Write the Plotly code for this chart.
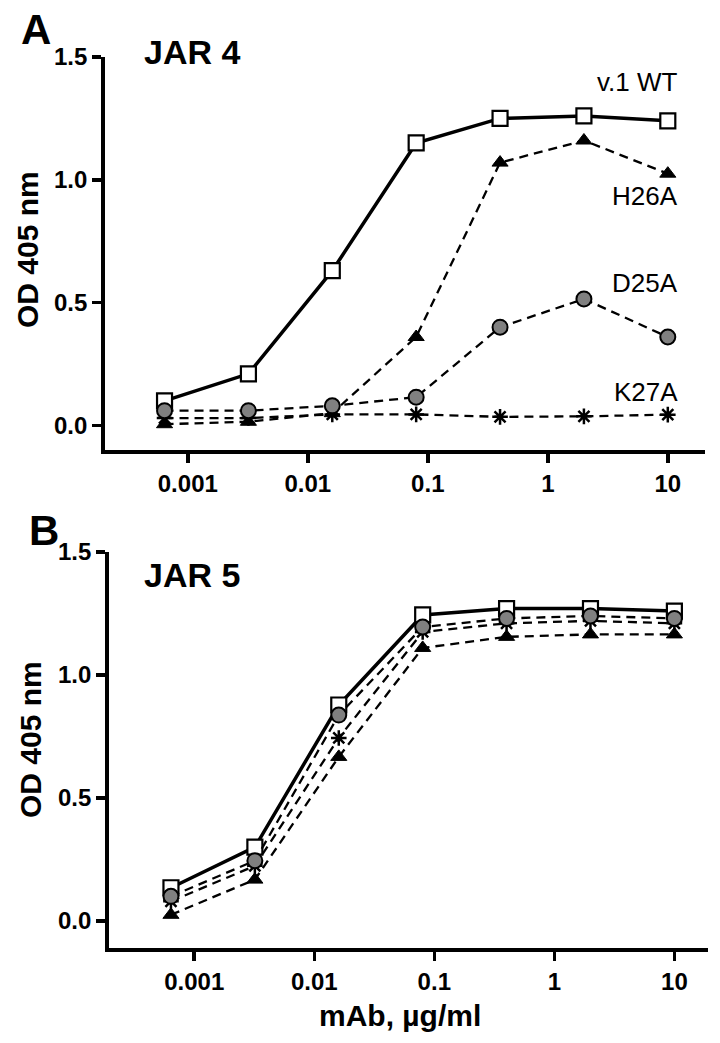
import plotly.graph_objects as go

# ---- data ----
conc = [0.00064, 0.0032, 0.016, 0.08, 0.4, 2, 10]

jar4_wt = [0.10, 0.21, 0.63, 1.15, 1.25, 1.26, 1.24]
jar4_h26a = [0.005, 0.015, 0.05, 0.36, 1.07, 1.16, 1.025]
jar4_d25a = [0.06, 0.06, 0.08, 0.115, 0.40, 0.515, 0.36]
jar4_k27a = [0.03, 0.03, 0.045, 0.045, 0.035, 0.037, 0.044]

jar5_wt = [0.135, 0.30, 0.878, 1.244, 1.27, 1.27, 1.26]
jar5_d25a = [0.10, 0.245, 0.837, 1.195, 1.23, 1.24, 1.23]
jar5_k27a = [0.08, 0.224, 0.744, 1.175, 1.21, 1.22, 1.21]
jar5_h26a = [0.025, 0.168, 0.667, 1.11, 1.155, 1.165, 1.165]

x_tickvals = [0.001, 0.01, 0.1, 1, 10]
x_ticktext = ["0.001", "0.01", "0.1", "1", "10"]
y_tickvals = [0, 0.5, 1.0, 1.5]
y_ticktext = ["0.0", "0.5", "1.0", "1.5"]

W, H = 720, 1043
FONT = "Liberation Sans, Arial, sans-serif"
DASH = "9px,6px"

def px_x(p):
    return p / W

def px_y(p):
    return 1 - p / H

styles = {
    "wt": dict(mode="lines+markers", line=dict(color="black", width=3.5),
               marker=dict(symbol="square", size=15, color="white",
                           line=dict(color="black", width=2.2))),
    "h26a": dict(mode="lines+markers", line=dict(color="black", width=2.3, dash=DASH),
                 marker=dict(symbol="triangle-up", size=14, color="black",
                             line=dict(color="black", width=1))),
    "k27a": dict(mode="lines+markers", line=dict(color="black", width=2.3, dash=DASH),
                 marker=dict(symbol="asterisk-open", size=13, color="black",
                             line=dict(color="black", width=2.5))),
    "d25a": dict(mode="lines+markers", line=dict(color="black", width=2.3, dash=DASH),
                 marker=dict(symbol="circle", size=15, color="#808080",
                             line=dict(color="black", width=2))),
}

fig = go.Figure()

panels = [
    ("x", "y", [("wt", jar4_wt, "v.1 WT"), ("h26a", jar4_h26a, "H26A"),
                ("k27a", jar4_k27a, "K27A"), ("d25a", jar4_d25a, "D25A")]),
    ("x2", "y2", [("wt", jar5_wt, "v.1 WT"), ("h26a", jar5_h26a, "H26A"),
                  ("k27a", jar5_k27a, "K27A"), ("d25a", jar5_d25a, "D25A")]),
]
for xa, ya, series in panels:
    for key, vals, name in series:
        fig.add_trace(go.Scatter(x=conc, y=vals, name=name, xaxis=xa, yaxis=ya,
                                 showlegend=False, cliponaxis=False, **styles[key]))

axis_common = dict(showline=True, linecolor="black", linewidth=3.8, mirror=False,
                   ticks="outside", ticklen=9, tickwidth=3.5, tickcolor="black",
                   showgrid=False, zeroline=False, automargin=False,
                   tickfont=dict(family=FONT, size=24, color="black", weight="bold"))

fig.update_layout(
    width=W, height=H,
    margin=dict(l=0, r=0, t=0, b=0, autoexpand=False),
    paper_bgcolor="white", plot_bgcolor="white",
    xaxis=dict(type="log", range=[-3.69, 1.31], domain=[px_x(105), px_x(705)],
               anchor="y", tickvals=x_tickvals, ticktext=x_ticktext, **axis_common),
    yaxis=dict(range=[-0.1, 1.5], domain=[px_y(450), px_y(57)], anchor="x",
               tickvals=y_tickvals, ticktext=y_ticktext, **axis_common),
    xaxis2=dict(type="log", range=[-3.71, 1.28], domain=[px_x(109), px_x(708)],
                anchor="y2", tickvals=x_tickvals, ticktext=x_ticktext, **axis_common),
    yaxis2=dict(range=[-0.11, 1.5], domain=[px_y(948), px_y(552)], anchor="x2",
                tickvals=y_tickvals, ticktext=y_ticktext, **axis_common),
)

def ann(text, x, y, size, bold=True, xanchor="center", angle=0):
    fig.add_annotation(text=text, x=px_x(x), y=px_y(y), xref="paper", yref="paper",
                       showarrow=False, xanchor=xanchor, yanchor="middle",
                       textangle=angle,
                       font=dict(family=FONT, size=size, color="black",
                                 weight="bold" if bold else "normal"))

# panel letters and titles
ann("A", 36, 30, 42)
ann("B", 44, 530, 42)
ann("JAR 4", 192, 52, 34)
ann("JAR 5", 192, 575, 34)

# series labels (panel A)
ann("v.1 WT", 680, 82, 26, bold=False, xanchor="right")
ann("H26A", 680, 196, 26, bold=False, xanchor="right")
ann("D25A", 680, 283, 26, bold=False, xanchor="right")
ann("K27A", 680, 392, 26, bold=False, xanchor="right")

# axis titles
ann("OD 405 nm", 27, 250, 30, angle=-90)
ann("OD 405 nm", 30, 740, 30, angle=-90)
ann("mAb, µg/ml", 400, 1015, 30)

fig.write_html(
    "out.html",
    config={"displayModeBar": False, "staticPlot": True},
    post_script="document.body.style.margin='0';document.body.style.overflow='hidden';",
)
